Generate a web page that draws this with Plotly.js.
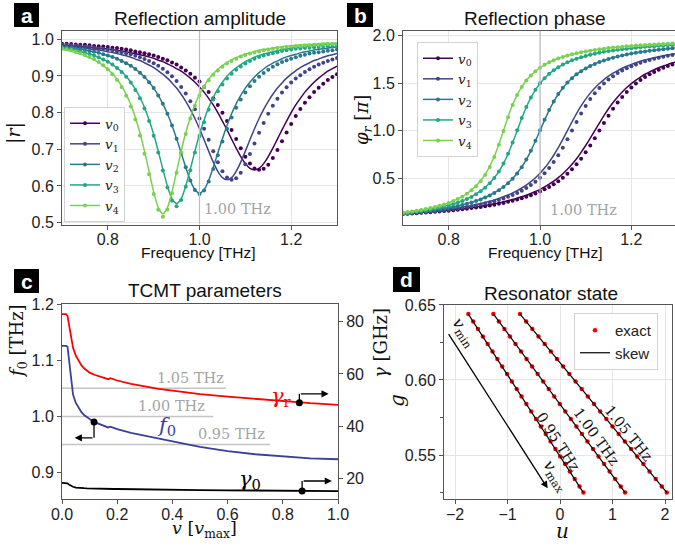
<!DOCTYPE html>
<html><head><meta charset="utf-8">
<script src="https://cdn.plot.ly/plotly-3.0.1.min.js"></script>
<style>html,body{margin:0;padding:0;background:#fff}#plot{width:675px;height:546px}</style>
</head><body><div id="plot"></div>
<script>
// ---------- DATA ----------
const freq = [0.70,0.71,0.72,0.73,0.74,0.75,0.76,0.77,0.78,0.79,0.80,0.81,0.82,0.83,0.84,0.85,0.86,0.87,0.88,0.89,0.90,0.91,0.92,0.93,0.94,0.95,0.96,0.97,0.98,0.99,1.00,1.01,1.02,1.03,1.04,1.05,1.06,1.07,1.08,1.09,1.10,1.11,1.12,1.13,1.14,1.15,1.16,1.17,1.18,1.19,1.20,1.21,1.22,1.23,1.24,1.25,1.26,1.27,1.28,1.29,1.30];
const seriesNames = ['v0','v1','v2','v3','v4'];

// reflection amplitude |r| : TCMT model (lines) and exact (dots)
const ampLine0 = [0.984,0.983,0.982,0.981,0.981,0.980,0.978,0.977,0.976,0.975,0.973,0.972,0.970,0.968,0.966,0.963,0.961,0.958,0.955,0.952,0.948,0.943,0.939,0.933,0.927,0.920,0.913,0.904,0.894,0.883,0.870,0.856,0.839,0.821,0.800,0.777,0.753,0.728,0.703,0.680,0.661,0.648,0.644,0.648,0.661,0.680,0.703,0.728,0.753,0.777,0.800,0.821,0.839,0.856,0.870,0.883,0.894,0.904,0.913,0.920,0.927];
const ampLine1 = [0.982,0.981,0.980,0.978,0.977,0.976,0.974,0.972,0.971,0.969,0.966,0.964,0.961,0.958,0.955,0.951,0.946,0.942,0.936,0.930,0.923,0.914,0.905,0.894,0.881,0.867,0.850,0.831,0.809,0.784,0.756,0.726,0.695,0.665,0.640,0.623,0.617,0.623,0.640,0.665,0.695,0.726,0.756,0.784,0.809,0.831,0.850,0.867,0.881,0.894,0.905,0.914,0.923,0.930,0.936,0.942,0.946,0.951,0.955,0.958,0.961];
const ampLine2 = [0.979,0.978,0.976,0.974,0.973,0.971,0.968,0.966,0.963,0.959,0.956,0.952,0.947,0.941,0.935,0.928,0.919,0.909,0.897,0.883,0.867,0.847,0.824,0.797,0.765,0.729,0.690,0.651,0.615,0.590,0.581,0.590,0.615,0.651,0.690,0.729,0.765,0.797,0.824,0.847,0.867,0.883,0.897,0.909,0.919,0.928,0.935,0.941,0.947,0.952,0.956,0.959,0.963,0.966,0.968,0.971,0.973,0.974,0.976,0.978,0.979];
const ampLine3 = [0.976,0.974,0.972,0.969,0.966,0.963,0.960,0.956,0.951,0.945,0.939,0.931,0.922,0.912,0.899,0.883,0.864,0.842,0.814,0.780,0.741,0.695,0.646,0.600,0.565,0.552,0.565,0.600,0.646,0.695,0.741,0.780,0.814,0.842,0.864,0.883,0.899,0.912,0.922,0.931,0.939,0.945,0.951,0.956,0.960,0.963,0.966,0.969,0.972,0.974,0.976,0.978,0.979,0.980,0.982,0.983,0.984,0.985,0.986,0.987,0.987];
const ampLine4 = [0.972,0.970,0.967,0.963,0.960,0.955,0.950,0.944,0.937,0.928,0.918,0.906,0.891,0.873,0.850,0.822,0.787,0.745,0.695,0.639,0.584,0.541,0.524,0.541,0.584,0.639,0.695,0.745,0.787,0.822,0.850,0.873,0.891,0.906,0.918,0.928,0.937,0.944,0.950,0.955,0.960,0.963,0.967,0.970,0.972,0.974,0.976,0.978,0.980,0.981,0.982,0.984,0.985,0.986,0.986,0.987,0.988,0.989,0.989,0.990,0.990];

const ampDot0 = [0.988,0.988,0.987,0.986,0.985,0.985,0.984,0.982,0.981,0.980,0.979,0.977,0.976,0.974,0.972,0.970,0.967,0.965,0.962,0.959,0.956,0.952,0.947,0.943,0.937,0.931,0.923,0.915,0.906,0.895,0.885,0.870,0.856,0.839,0.821,0.800,0.777,0.753,0.728,0.703,0.680,0.661,0.648,0.644,0.647,0.658,0.676,0.698,0.722,0.746,0.769,0.791,0.810,0.827,0.842,0.856,0.868,0.879,0.889,0.897,0.905];
const ampDot1 = [0.985,0.985,0.984,0.983,0.981,0.980,0.979,0.977,0.975,0.974,0.972,0.970,0.967,0.965,0.962,0.959,0.955,0.951,0.946,0.941,0.935,0.928,0.920,0.910,0.899,0.886,0.870,0.852,0.831,0.809,0.784,0.756,0.726,0.695,0.665,0.640,0.623,0.617,0.621,0.636,0.659,0.687,0.716,0.745,0.772,0.797,0.819,0.838,0.855,0.869,0.882,0.893,0.902,0.911,0.918,0.925,0.931,0.936,0.941,0.945,0.949];
const ampDot2 = [0.979,0.978,0.976,0.974,0.973,0.971,0.968,0.966,0.963,0.959,0.956,0.952,0.947,0.941,0.935,0.928,0.919,0.909,0.897,0.883,0.867,0.847,0.824,0.797,0.765,0.729,0.690,0.651,0.615,0.589,0.578,0.588,0.612,0.646,0.684,0.721,0.756,0.787,0.813,0.836,0.855,0.872,0.886,0.898,0.908,0.917,0.925,0.932,0.938,0.943,0.947,0.951,0.955,0.958,0.961,0.963,0.965,0.967,0.969,0.970,0.972];
const ampDot3 = [0.977,0.975,0.973,0.970,0.967,0.964,0.960,0.956,0.951,0.945,0.939,0.931,0.922,0.911,0.898,0.882,0.862,0.839,0.811,0.777,0.737,0.691,0.642,0.596,0.560,0.545,0.562,0.598,0.643,0.691,0.736,0.774,0.808,0.836,0.858,0.877,0.893,0.906,0.917,0.926,0.934,0.941,0.947,0.952,0.956,0.959,0.962,0.965,0.968,0.970,0.972,0.974,0.975,0.976,0.977,0.978,0.979,0.980,0.981,0.981,0.982];
const ampDot4 = [0.975,0.973,0.970,0.966,0.962,0.957,0.952,0.946,0.938,0.929,0.918,0.905,0.889,0.870,0.846,0.817,0.781,0.738,0.688,0.632,0.578,0.535,0.516,0.536,0.580,0.636,0.692,0.742,0.784,0.819,0.847,0.870,0.888,0.903,0.915,0.925,0.934,0.941,0.947,0.953,0.957,0.961,0.964,0.967,0.970,0.972,0.974,0.976,0.977,0.979,0.980,0.981,0.982,0.983,0.984,0.985,0.985,0.986,0.987,0.987,0.988];

// reflection phase (units of pi)
const phLine0 = [0.124,0.127,0.130,0.133,0.137,0.140,0.144,0.148,0.152,0.156,0.161,0.166,0.171,0.177,0.183,0.189,0.196,0.203,0.211,0.219,0.228,0.238,0.249,0.260,0.273,0.287,0.302,0.319,0.337,0.358,0.381,0.406,0.435,0.467,0.504,0.545,0.592,0.645,0.704,0.771,0.843,0.920,1.000,1.080,1.157,1.230,1.296,1.355,1.408,1.455,1.496,1.533,1.565,1.594,1.619,1.642,1.663,1.681,1.698,1.713,1.727];
const phLine1 = [0.127,0.130,0.134,0.138,0.142,0.146,0.151,0.156,0.161,0.167,0.173,0.180,0.187,0.194,0.202,0.211,0.221,0.231,0.243,0.255,0.269,0.285,0.302,0.321,0.343,0.367,0.395,0.426,0.462,0.503,0.550,0.605,0.668,0.740,0.820,0.908,1.000,1.092,1.180,1.260,1.332,1.395,1.450,1.497,1.538,1.574,1.606,1.633,1.657,1.679,1.698,1.715,1.731,1.745,1.757,1.769,1.779,1.789,1.798,1.806,1.814];
const phLine2 = [0.128,0.132,0.137,0.142,0.147,0.152,0.158,0.165,0.172,0.180,0.188,0.197,0.208,0.218,0.231,0.245,0.260,0.277,0.297,0.319,0.345,0.374,0.408,0.448,0.495,0.551,0.617,0.695,0.787,0.890,1.000,1.110,1.214,1.305,1.383,1.449,1.505,1.552,1.592,1.626,1.656,1.681,1.703,1.723,1.740,1.755,1.769,1.782,1.793,1.803,1.812,1.820,1.828,1.835,1.842,1.848,1.853,1.858,1.863,1.868,1.872];
const phLine3 = [0.132,0.137,0.143,0.149,0.156,0.163,0.171,0.180,0.190,0.201,0.214,0.227,0.243,0.261,0.281,0.304,0.332,0.364,0.402,0.448,0.503,0.571,0.653,0.753,0.871,1.000,1.130,1.247,1.347,1.430,1.497,1.552,1.598,1.636,1.668,1.696,1.719,1.740,1.757,1.773,1.786,1.799,1.810,1.820,1.829,1.837,1.844,1.851,1.857,1.863,1.868,1.873,1.878,1.882,1.886,1.889,1.893,1.896,1.899,1.902,1.905];
const phLine4 = [0.136,0.142,0.149,0.157,0.165,0.174,0.184,0.196,0.208,0.223,0.239,0.258,0.281,0.306,0.337,0.374,0.418,0.472,0.539,0.624,0.729,0.856,1.000,1.144,1.272,1.376,1.461,1.528,1.582,1.626,1.663,1.694,1.720,1.742,1.761,1.777,1.792,1.805,1.816,1.826,1.835,1.843,1.851,1.858,1.864,1.870,1.875,1.880,1.884,1.888,1.892,1.896,1.899,1.902,1.905,1.908,1.911,1.913,1.916,1.918,1.920];

const phDot0 = [0.121,0.124,0.127,0.130,0.133,0.137,0.140,0.144,0.148,0.152,0.156,0.161,0.166,0.171,0.177,0.183,0.189,0.196,0.203,0.211,0.219,0.228,0.238,0.249,0.260,0.273,0.287,0.302,0.319,0.337,0.358,0.381,0.406,0.435,0.467,0.504,0.545,0.592,0.645,0.704,0.771,0.843,0.920,1.000,1.080,1.157,1.230,1.296,1.355,1.408,1.455,1.496,1.533,1.565,1.594,1.619,1.642,1.663,1.681,1.698,1.713];
const phDot1 = [0.123,0.127,0.130,0.134,0.138,0.142,0.146,0.151,0.156,0.161,0.167,0.173,0.180,0.187,0.194,0.202,0.211,0.221,0.231,0.243,0.255,0.269,0.285,0.302,0.321,0.343,0.367,0.395,0.426,0.462,0.503,0.550,0.605,0.668,0.740,0.820,0.908,1.000,1.092,1.180,1.260,1.332,1.395,1.450,1.497,1.538,1.574,1.606,1.633,1.657,1.679,1.698,1.715,1.731,1.745,1.757,1.769,1.779,1.789,1.798,1.806];
const phDot2 = [0.126,0.130,0.135,0.140,0.145,0.150,0.156,0.163,0.170,0.178,0.186,0.195,0.205,0.216,0.228,0.242,0.257,0.274,0.294,0.316,0.342,0.371,0.405,0.445,0.492,0.548,0.615,0.695,0.789,0.894,1.004,1.114,1.218,1.308,1.386,1.451,1.507,1.553,1.593,1.627,1.656,1.681,1.703,1.723,1.740,1.755,1.769,1.782,1.793,1.803,1.812,1.820,1.828,1.835,1.842,1.848,1.853,1.858,1.863,1.868,1.872];
const phDot3 = [0.130,0.135,0.141,0.147,0.154,0.161,0.169,0.178,0.188,0.199,0.211,0.225,0.240,0.258,0.278,0.301,0.328,0.360,0.398,0.444,0.500,0.569,0.652,0.755,0.875,1.004,1.134,1.250,1.349,1.431,1.498,1.553,1.599,1.637,1.669,1.697,1.720,1.741,1.758,1.774,1.787,1.800,1.811,1.821,1.830,1.838,1.845,1.852,1.858,1.864,1.869,1.874,1.879,1.883,1.887,1.890,1.894,1.897,1.900,1.903,1.906];
const phDot4 = [0.135,0.141,0.148,0.156,0.164,0.173,0.183,0.195,0.207,0.222,0.238,0.257,0.279,0.304,0.334,0.370,0.413,0.466,0.532,0.616,0.722,0.850,0.996,1.141,1.270,1.375,1.460,1.528,1.582,1.626,1.663,1.694,1.720,1.742,1.761,1.777,1.792,1.805,1.816,1.826,1.835,1.843,1.851,1.858,1.864,1.870,1.875,1.880,1.884,1.888,1.892,1.896,1.899,1.902,1.905,1.908,1.911,1.913,1.916,1.918,1.920];

// TCMT parameters vs v
const cV   = [0,0.015,0.02,0.025,0.03,0.035,0.04,0.05,0.06,0.07,0.08,0.09,0.10,0.12,0.14,0.16,0.167,0.175,0.19,0.2,0.25,0.3,0.35,0.4,0.45,0.5,0.6,0.7,0.8,0.9,1.0];
const cF0  = [1.1255,1.1255,1.124,1.1016,1.073,1.054,1.039,1.024,1.015,1.008,1.0026,0.9984,0.9954,0.9895,0.986,0.9823,0.9805,0.9817,0.9793,0.9775,0.971,0.9656,0.9602,0.9555,0.9507,0.9459,0.9382,0.9328,0.9286,0.9256,0.9239];
const cGr  = [82.9,82.9,82.2,78.7,75.5,72.3,70.0,67.0,64.9,63.4,62.2,61.2,60.5,59.6,58.9,58.3,58.0,58.4,57.9,57.5,56.2,55.2,54.3,53.6,52.9,52.3,51.3,50.4,49.6,48.8,48.2];
const cG0  = [18.3,18.3,18.1,17.7,17.3,17.0,16.8,16.5,16.35,16.3,16.25,16.2,16.15,16.1,16.05,16.0,16.0,16.0,15.95,15.95,15.85,15.8,15.7,15.65,15.6,15.55,15.45,15.35,15.3,15.2,15.15];
const refFreqs = [1.05, 1.00, 0.95];
const refLabels = ['1.05 THz','1.00 THz','0.95 THz'];
const markF0 = {v:[0.116], f:[0.990]};
const markGr = {v:[0.86], g:[49.0]};
const markG0 = {v:[0.87], g:[15.2]};

// Resonator state (u, g)
const dG = [0.644,0.639,0.634,0.629,0.624,0.619,0.614,0.609,0.604,0.599,0.594,0.589,0.584,0.579,0.574,0.569,0.564,0.559,0.554,0.549,0.544,0.539,0.534,0.529,0.525];
const dU095 = [-1.746,-1.654,-1.562,-1.470,-1.378,-1.286,-1.193,-1.101,-1.009,-0.917,-0.825,-0.733,-0.641,-0.549,-0.457,-0.365,-0.272,-0.180,-0.088,0.004,0.096,0.188,0.280,0.372,0.446];
const dU100 = [-1.270,-1.165,-1.059,-0.954,-0.848,-0.743,-0.637,-0.532,-0.426,-0.321,-0.215,-0.110,-0.004,0.101,0.207,0.312,0.418,0.523,0.629,0.734,0.840,0.945,1.051,1.156,1.240];
const dU105 = [-0.762,-0.645,-0.527,-0.410,-0.292,-0.175,-0.057,0.060,0.178,0.295,0.413,0.530,0.648,0.765,0.883,1.000,1.118,1.235,1.353,1.470,1.588,1.705,1.823,1.940,2.034];
const skewG = [0.644, 0.525];
const skewU095 = [-1.75, 0.445];
const skewU100 = [-1.27, 1.24];
const skewU105 = [-0.765, 2.035];

// ---------- STYLE / LAYOUT ----------
const W = 675, H = 546;
const px = v => v / W, py = v => 1 - v / H;
const sans = 'Liberation Sans, Arial, sans-serif';
const serif = 'DejaVu Serif, serif';
const colors = ['#440154','#414487','#2a788e','#22a884','#7ad151'];
const ampLines = [ampLine0,ampLine1,ampLine2,ampLine3,ampLine4];
const ampDots = [ampDot0,ampDot1,ampDot2,ampDot3,ampDot4];
const phLines = [phLine0,phLine1,phLine2,phLine3,phLine4];
const phDots = [phDot0,phDot1,phDot2,phDot3,phDot4];
const legText = n => '<i>v</i><sub>' + n.slice(1) + '</sub>';

const traces = [];
[['x','y',ampDots,ampLines,'legend'],['x2','y2',phDots,phLines,'legend2']].forEach(([xa,ya,dots,lines,leg]) => {
  for (let i = 0; i < 5; i++) {
    traces.push({x: freq, y: dots[i], xaxis: xa, yaxis: ya, mode: 'markers', marker: {size: 4, color: colors[i]}, showlegend: false, hoverinfo: 'skip'});
    traces.push({x: freq, y: lines[i], xaxis: xa, yaxis: ya, mode: 'lines', line: {color: colors[i], width: 1.5, shape: 'spline', smoothing: 0.6}, showlegend: false, hoverinfo: 'skip'});
  }
  for (let i = 0; i < 5; i++) {
    traces.push({x: [null], y: [null], xaxis: xa, yaxis: ya, mode: 'lines+markers', name: legText(seriesNames[i]), legend: leg,
      line: {color: colors[i], width: 1.5}, marker: {size: 4, color: colors[i]}});
  }
});
// panel c
traces.push({x: cV, y: cGr, xaxis: 'x3', yaxis: 'y4', mode: 'lines', line: {color: '#ff0000', width: 1.8}, showlegend: false});
traces.push({x: cV, y: cG0, xaxis: 'x3', yaxis: 'y4', mode: 'lines', line: {color: '#000000', width: 1.8}, showlegend: false});
traces.push({x: cV, y: cF0, xaxis: 'x3', yaxis: 'y3', mode: 'lines', line: {color: '#3b3f9a', width: 1.8}, showlegend: false});
traces.push({x: markF0.v, y: markF0.f, xaxis: 'x3', yaxis: 'y3', mode: 'markers', marker: {size: 7, color: '#000'}, showlegend: false});
traces.push({x: markGr.v.concat(markG0.v), y: markGr.g.concat(markG0.g), xaxis: 'x3', yaxis: 'y4', mode: 'markers', marker: {size: 7, color: '#000'}, showlegend: false});
// panel d
[dU095, dU100, dU105].forEach((u, k) => {
  traces.push({x: u, y: dG, xaxis: 'x4', yaxis: 'y5', mode: 'markers', marker: {size: 4.5, color: '#ff0000'}, name: 'exact', legend: 'legend3', showlegend: k === 0, legendgroup: 'exact'});
});
[skewU095, skewU100, skewU105].forEach((u, k) => {
  traces.push({x: u, y: skewG, xaxis: 'x4', yaxis: 'y5', mode: 'lines', line: {color: '#000', width: 1.2}, name: 'skew', legend: 'legend3', showlegend: k === 0, legendgroup: 'skew'});
});

const axBase = {showline: true, linecolor: '#555', linewidth: 1, mirror: true, ticks: 'outside', ticklen: 4, tickcolor: '#555',
  tickfont: {family: sans, size: 16, color: '#222'}, gridcolor: '#e6e6e6', gridwidth: 1, zeroline: false, tickmode: 'array'};
const ax = o => Object.assign({}, axBase, o);

const legBase = {xanchor: 'left', yanchor: 'top', bgcolor: 'rgba(255,255,255,0.85)', bordercolor: '#d2d2d2', borderwidth: 1,
  font: {family: serif, size: 13.5, color: '#222'}, tracegroupgap: 0, itemwidth: 30};

const annotations = [];
const ann = o => annotations.push(Object.assign({showarrow: false, xref: 'paper', yref: 'paper', xanchor: 'center', yanchor: 'middle'}, o));
// panel letters
[['a',26.5,15],['b',360,15],['c',26.5,281],['d',406.5,279.5]].forEach(([t,x,y]) =>
  ann({x: px(x), y: py(y), text: '<b>' + t + '</b>', font: {family: sans, size: 21, color: '#fff'}}));
// titles
ann({x: px(200), y: py(19), text: 'Reflection amplitude', font: {family: sans, size: 19, color: '#111'}});
ann({x: px(535), y: py(19), text: 'Reflection phase', font: {family: sans, size: 19, color: '#111'}});
ann({x: px(205), y: py(290), text: 'TCMT parameters', font: {family: sans, size: 19, color: '#111'}});
ann({x: px(551), y: py(293), text: 'Resonator state', font: {family: sans, size: 19, color: '#111'}});
// axis titles
ann({x: px(198), y: py(252), text: 'Frequency [THz]', font: {family: sans, size: 15.5, color: '#111'}});
ann({x: px(545), y: py(252), text: 'Frequency [THz]', font: {family: sans, size: 15.5, color: '#111'}});
ann({x: px(13), y: py(133), text: '|<i>r</i>|', textangle: -90, font: {family: serif, size: 19, color: '#111'}});
ann({x: px(363), y: py(120), text: '<i>φ</i><sub><i>r</i></sub> [<i>π</i>]', textangle: -90, font: {family: serif, size: 18, color: '#111'}});
ann({x: px(204), y: py(529), text: '<i>v</i> [<i>v</i><sub>max</sub>]', font: {family: serif, size: 17.5, color: '#111'}});
ann({x: px(18), y: py(341), text: '<i>f</i><sub>0</sub> [THz]', textangle: -90, font: {family: serif, size: 18, color: '#111'}});
ann({x: px(380), y: py(343), text: '<i>γ</i> [GHz]', textangle: -90, font: {family: serif, size: 18, color: '#111'}});
ann({x: px(562), y: py(531), text: '<i>u</i>', font: {family: serif, size: 20, color: '#111'}});
ann({x: px(397), y: py(401), text: '<i>g</i>', textangle: -90, font: {family: serif, size: 20, color: '#111'}});
// data-anchored labels
const gray = '#a4a4a4';
annotations.push({xref: 'x', yref: 'y', x: 1.006, y: 0.536, text: '1.00 THz', showarrow: false, xanchor: 'left', yanchor: 'middle', font: {family: serif, size: 14.5, color: gray}});
annotations.push({xref: 'x2', yref: 'y2', x: 1.018, y: 0.163, text: '1.00 THz', showarrow: false, xanchor: 'left', yanchor: 'middle', font: {family: serif, size: 14.5, color: gray}});
const cLabelPos = [[0.464, 1.0688],[0.397, 1.018],[0.615, 0.9686]];
refLabels.forEach((t, i) => annotations.push({xref: 'x3', yref: 'y3', x: cLabelPos[i][0], y: cLabelPos[i][1], text: t, showarrow: false, font: {family: serif, size: 14.5, color: gray}}));
annotations.push({xref: 'x3', yref: 'y4', x: 0.797, y: 51.0, text: '<i>γ</i><sub>r</sub>', showarrow: false, font: {family: serif, size: 21, color: '#ff0000'}});
annotations.push({xref: 'x3', yref: 'y3', x: 0.379, y: 0.9835, text: '<i>f</i><sub>0</sub>', showarrow: false, font: {family: serif, size: 21, color: '#3b3f9a'}});
annotations.push({xref: 'x3', yref: 'y4', x: 0.682, y: 19.3, text: '<i>γ</i><sub>0</sub>', showarrow: false, font: {family: serif, size: 21, color: '#000'}});
// arrows
const arr = (xr, yr, x, y, axv, ayv) => annotations.push({xref: xr, yref: yr, axref: xr, ayref: yr, x: x, y: y, ax: axv, ay: ayv, text: '', showarrow: true, arrowhead: 2, arrowsize: 1.1, arrowwidth: 1.3, arrowcolor: '#000', standoff: 0, startstandoff: 0});
arr('x3','y3', 0.046, 0.962, 0.116, 0.962);
arr('x3','y4', 0.966, 52.4, 0.86, 52.4);
arr('x3','y4', 0.978, 19.0, 0.87, 19.0);
arr('x4','y5', -0.235, 0.5278, -2.14, 0.6316);
annotations.push({xref: 'x4', yref: 'y5', x: -0.03, y: 0.559, text: '0.95 THz', textangle: 57, showarrow: false, font: {family: serif, size: 14.5, color: '#111'}});
annotations.push({xref: 'x4', yref: 'y5', x: 0.70, y: 0.5622, text: '1.00 THz', textangle: 54, showarrow: false, font: {family: serif, size: 14.5, color: '#111'}});
annotations.push({xref: 'x4', yref: 'y5', x: 1.30, y: 0.5644, text: '1.05 THz', textangle: 51, showarrow: false, font: {family: serif, size: 14.5, color: '#111'}});
annotations.push({xref: 'x4', yref: 'y5', x: -1.83, y: 0.6318, text: '<i>v</i><sub>min</sub>', textangle: 57, showarrow: false, font: {family: serif, size: 16, color: '#111'}});
annotations.push({xref: 'x4', yref: 'y5', x: -0.095, y: 0.5362, text: '<i>v</i><sub>max</sub>', textangle: 57, showarrow: false, font: {family: serif, size: 16, color: '#111'}});

const shapes = [];
[[14,39,3,27],[347,373,3,27],[14,39,269,293],[393,420,267,292]].forEach(([x0,x1,y0,y1]) =>
  shapes.push({type: 'rect', xref: 'paper', yref: 'paper', x0: px(x0), x1: px(x1), y0: py(y1), y1: py(y0), fillcolor: '#000', line: {width: 0}}));
shapes.push({type: 'line', xref: 'x', yref: 'y', x0: 1.0, x1: 1.0, y0: 0.495, y1: 1.0226, line: {color: '#bdbdbd', width: 1.2}, layer: 'above'});
shapes.push({type: 'line', xref: 'x2', yref: 'y2', x0: 1.0, x1: 1.0, y0: 0.005, y1: 2.05, line: {color: '#bdbdbd', width: 1.2}, layer: 'above'});
const refEnds = [0.594, 0.548, 0.754];
refFreqs.forEach((f, i) => shapes.push({type: 'line', xref: 'x3', yref: 'y3', x0: 0, x1: refEnds[i], y0: f, y1: f, line: {color: '#c4c4c4', width: 1.5}, layer: 'below'}));
shapes.push({type: 'line', xref: 'x3', yref: 'y3', x0: 0.116, x1: 0.116, y0: 0.990, y1: 0.962, line: {color: '#000', width: 1.3}});
shapes.push({type: 'line', xref: 'x3', yref: 'y4', x0: 0.86, x1: 0.86, y0: 49.0, y1: 52.4, line: {color: '#000', width: 1.3}});
shapes.push({type: 'line', xref: 'x3', yref: 'y4', x0: 0.87, x1: 0.87, y0: 15.2, y1: 19.0, line: {color: '#000', width: 1.3}});

const layout = {
  width: W, height: H, margin: {l: 0, r: 0, t: 0, b: 0}, paper_bgcolor: '#fff', plot_bgcolor: '#fff',
  showlegend: true, annotations: annotations, shapes: shapes,
  xaxis: ax({domain: [px(62), px(337)], range: [0.7, 1.3], anchor: 'y', ticklabelstandoff: -4, tickvals: [0.8, 1.0, 1.2], ticktext: ['0.8','1.0','1.2']}),
  yaxis: ax({domain: [py(224.5), py(31)], range: [0.495, 1.0226], anchor: 'x', tickvals: [0.5,0.6,0.7,0.8,0.9,1.0], ticktext: ['0.5','0.6','0.7','0.8','0.9','1.0']}),
  xaxis2: ax({domain: [px(403), 1], range: [0.7, 1.2956], anchor: 'y2', ticklabelstandoff: -4, tickvals: [0.8, 1.0, 1.2], ticktext: ['0.8','1.0','1.2']}),
  yaxis2: ax({domain: [py(225), py(31)], range: [0.005, 2.05], anchor: 'x2', mirror: false, tickvals: [0.5,1.0,1.5,2.0], ticktext: ['0.5','1.0','1.5','2.0']}),
  xaxis3: ax({domain: [px(62), px(338)], range: [0, 1], anchor: 'y3', showgrid: false, ticklabelstandoff: -4, tickvals: [0,0.2,0.4,0.6,0.8,1.0], ticktext: ['0.0','0.2','0.4','0.6','0.8','1.0']}),
  yaxis3: ax({domain: [py(499.3), py(304)], range: [0.8527, 1.2], anchor: 'x3', showgrid: false, mirror: false, tickvals: [0.9,1.0,1.1,1.2], ticktext: ['0.9','1.0','1.1','1.2']}),
  yaxis4: ax({overlaying: 'y3', side: 'right', anchor: 'x3', range: [12, 86.8], showgrid: false, mirror: false, tickvals: [20,40,60,80], ticktext: ['20','40','60','80']}),
  xaxis4: ax({domain: [px(444), px(672)], range: [-2.21, 2.133], anchor: 'y5', ticklabelstandoff: -4, tickvals: [-2,-1,0,1,2], ticktext: ['\u22122','\u22121','0','1','2']}),
  yaxis5: ax({domain: [py(499.3), py(304.5)], range: [0.5205, 0.6503], anchor: 'x4', tickvals: [0.55,0.60,0.65], ticktext: ['0.55','0.60','0.65'],
    minor: {tickvals: [0.525,0.575,0.625], ticks: 'outside', ticklen: 3, tickcolor: '#555', showgrid: false}}),
  legend: Object.assign({}, legBase, {x: px(64), y: py(107)}),
  legend2: Object.assign({}, legBase, {x: px(417), y: py(42)}),
  legend3: Object.assign({}, legBase, {x: px(574), y: py(313), font: {family: sans, size: 15, color: '#222'}})
};

Plotly.newPlot('plot', traces, layout, {staticPlot: true, displayModeBar: false});
</script>
</body></html>
